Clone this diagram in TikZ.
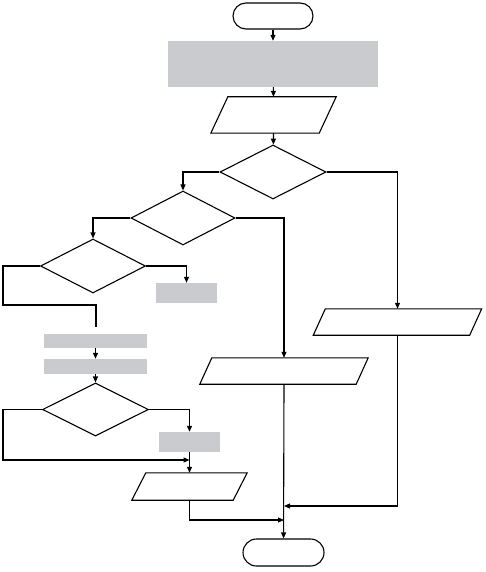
\documentclass[tikz,border=0pt]{standalone}
\usetikzlibrary{shapes.geometric,arrows.meta,calc}
\definecolor{boxgray}{RGB}{201,203,206}
\begin{document}
\begin{tikzpicture}[x=1pt,y=-1pt,
  line/.style={draw=black,line width=1.1pt},
  arr/.style={line,-{Triangle[length=6pt,width=5pt]}},
  term/.style={line,rectangle,rounded corners=13pt,inner sep=0pt},
  graybox/.style={rectangle,fill=boxgray,draw=none,inner sep=0pt},
  decision/.style={line,diamond,inner sep=0pt},
  parabody/.style={rectangle,draw=none,inner sep=0pt}]
\useasboundingbox (0,0) rectangle (486,572);
% nodes
\node[term,minimum width=80pt,minimum height=26pt] (start) at (273,16) {};
\node[graybox,minimum width=210pt,minimum height=46pt] (g1) at (273,64) {};
\node[parabody,minimum width=108pt,minimum height=36pt] (p1) at (273.5,115) {};
\node[decision,minimum width=106pt,minimum height=54pt] (d1) at (273,172) {};
\node[decision,minimum width=104pt,minimum height=54pt] (d2) at (183,218) {};
\node[decision,minimum width=105pt,minimum height=54pt] (d3) at (93,266) {};
\node[graybox,minimum width=61pt,minimum height=20pt] (g2) at (186.5,293) {};
\node[graybox,minimum width=103pt,minimum height=14pt] (g3) at (95.5,341) {};
\node[graybox,minimum width=103pt,minimum height=15pt] (g4) at (95.5,366.5) {};
\node[decision,minimum width=106pt,minimum height=53pt] (d4) at (95.5,409.5) {};
\node[graybox,minimum width=61pt,minimum height=20pt] (g5) at (189.5,442) {};
\node[parabody,minimum width=101pt,minimum height=27pt] (p4) at (189.5,486.5) {};
\node[parabody,minimum width=156pt,minimum height=26pt] (p3) at (284,371) {};
\node[parabody,minimum width=156pt,minimum height=26pt] (p2) at (397.5,322) {};
\node[term,minimum width=81pt,minimum height=27pt,rounded corners=13.5pt] (end) at (283.5,552.5) {};
% parallelogram outlines
\foreach \n/\s in {p1/17,p2/12,p3/12,p4/14}
  \draw[line,line join=miter] ($(\n.north west)+(\s/2,0)$) -- ($(\n.north east)+(\s/2,0)$)
     -- ($(\n.south east)-(\s/2,0)$) -- ($(\n.south west)-(\s/2,0)$) -- cycle;
% helper coordinates
\coordinate (j1) at (3,305);
\coordinate (j2) at (96,327);
\coordinate (j3) at (3,460);
\coordinate (j4) at (284,520);
\coordinate (j5) at (284,506);
% connectors
\draw[arr] (start) -- (g1);
\draw[arr] (g1) -- (p1.north);
\draw[arr] (p1.south) -- (d1);
\draw[arr] (d1.west) -| (d2.north);
\draw[arr] (d1.east) -| (p2.north);
\draw[arr] (d2.east) -| (p3.north);
\draw[arr] (d2.west) -| (d3.north);
\draw[arr] (d3.east) -| (g2.north);
\draw[line] (d3.west) -| (j1) -| (j2);
\draw[arr] (g3) -- (g4);
\draw[arr] (g4) -- (d4);
\draw[arr] (d4.east) -| (g5.north);
\draw[arr] (d4.west) -| (j3) -- (j3 -| g5.south);
\draw[arr] (g5) -- (p4.north);
\draw[arr] (p4.south) |- (j4);
\draw[arr] (p2.south) |- (j5);
\draw[arr] (p3.south) -- (end);
\end{tikzpicture}
\end{document}
